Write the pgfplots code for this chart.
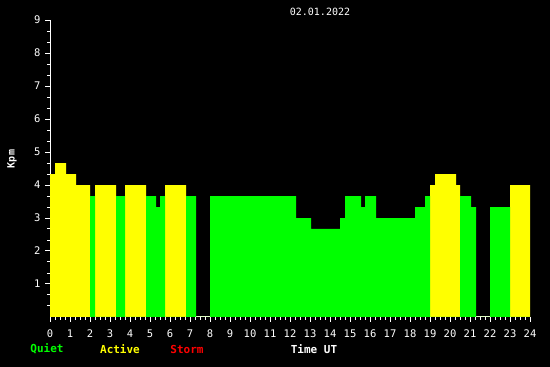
\documentclass[border=0pt]{standalone}
\usepackage{fontspec}
\setmainfont{DejaVu Sans Mono}
\usepackage{pgfplots}
\pgfplotsset{compat=1.18}
\definecolor{kgreen}{RGB}{0,255,0}
\definecolor{kyellow}{RGB}{255,255,0}
\definecolor{kred}{RGB}{255,0,0}
\begin{document}
\begin{tikzpicture}
\fill[black] (0pt,0pt) rectangle (550pt,367pt);
\begin{axis}[
  at={(50pt,50pt)}, anchor=south west,
  scale only axis, width=480pt, height=297pt,
  xmin=0, xmax=24, ymin=0, ymax=9,
  axis lines*=left,
  axis line style={white, line width=1pt},
  every tick/.style={white, line width=1pt},
  xtick={0,...,24}, minor x tick num=3,
  ytick={1,...,9},
  minor ytick={0.3333,0.6667,1.3333,1.6667,2.3333,2.6667,3.3333,3.6667,4.3333,4.6667,5.3333,5.6667,6.3333,6.6667,7.3333,7.6667,8.3333,8.6667},
  tick align=outside,
  major tick length=5pt, minor tick length=3pt,
  ticklabel style={white, font=\fontsize{10.5}{12}\selectfont},
  /pgf/number format/assume math mode=true,
  xticklabel style={yshift=-4pt},
  yticklabel style={xshift=-1pt},
  clip=false,
]
\addplot[const plot, fill=kyellow, draw=none] coordinates {
(0,4.3333)(0.25,4.6667)(0.8,4.3333)(1.3,4)(2.0,0)(2.25,4)(3.3,0)(3.75,4)(4.8,0)(5.75,4)(6.8,0)(19.0,4)(19.25,4.3333)(20.3,4)(20.5,0)(23.0,4)(24,4)
} \closedcycle;
\addplot[const plot, fill=kgreen, draw=none] coordinates {
(2.0,3.6667)(2.25,0)(3.3,3.6667)(3.75,0)(4.8,3.6667)(5.3,3.3333)(5.5,3.6667)(5.75,0)(6.8,3.6667)(7.3,0)(8.0,3.6667)(12.3,3.0)(13.05,2.6667)(14.5,3.0)(14.75,3.6667)(15.55,3.3333)(15.75,3.6667)(16.3,3.0)(18.25,3.3333)(18.75,3.6667)(19.0,0)(20.5,3.6667)(21.05,3.3333)(21.3,0)(22.0,3.3333)(23.0,0)(24,0)
} \closedcycle;
\end{axis}
\node[white, font=\fontsize{10}{12}\selectfont] at (320pt,355pt) {02.01.2022};
\node[white, font=\bfseries\fontsize{10}{12}\selectfont, rotate=90] at (12pt,208pt) {Kpm};
\node[kgreen, font=\bfseries\fontsize{11}{12}\selectfont] at (47pt,18pt) {Quiet};
\node[kyellow, font=\bfseries\fontsize{11}{12}\selectfont] at (120pt,18pt) {Active};
\node[kred, font=\bfseries\fontsize{11}{12}\selectfont] at (187pt,18pt) {Storm};
\node[white, font=\bfseries\fontsize{11}{12}\selectfont] at (314pt,18pt) {Time UT};
\pgfresetboundingbox
\useasboundingbox (0pt,0pt) rectangle (550pt,367pt);
\end{tikzpicture}
\end{document}
